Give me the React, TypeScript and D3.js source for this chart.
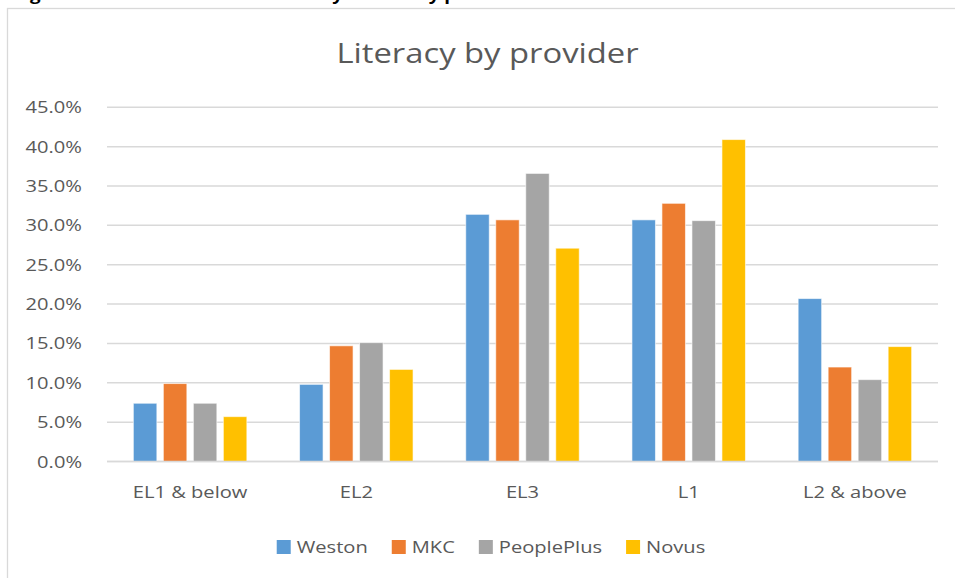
import React from "react";
import * as d3 from "d3";

const categories = ["EL1 & below", "EL2", "EL3", "L1", "L2 & above"];
const seriesNames = ["Weston", "MKC", "PeoplePlus", "Novus"];
const weston = [0.074, 0.098, 0.314, 0.307, 0.207];
const mkc = [0.099, 0.147, 0.307, 0.328, 0.12];
const peoplePlus = [0.074, 0.151, 0.366, 0.306, 0.104];
const novus = [0.057, 0.117, 0.271, 0.409, 0.146];
const seriesValues = [weston, mkc, peoplePlus, novus];
const colors = ["#5B9BD5", "#ED7D31", "#A5A5A5", "#FFC000"];
const yTicks = [0, 0.05, 0.1, 0.15, 0.2, 0.25, 0.3, 0.35, 0.4, 0.45];
const title = "Literacy by provider";
const header = "Figure 3: Initial assessment literacy results by provider";

const W = 955;
const H = 578;
const FONT = "'Open Sans', sans-serif";
const SX = 1.17;
const TEXT = "#595959";

let ctx: CanvasRenderingContext2D | null = null;
function measure(s: string, size: number, weight = "normal") {
  if (!ctx) ctx = document.createElement("canvas").getContext("2d");
  if (!ctx) return s.length * size * 0.55;
  ctx.font = `${weight} ${size}px 'Open Sans', sans-serif`;
  return ctx.measureText(s).width * SX;
}

function T(props: any) {
  const { x, y, size, anchor = "start", weight = "normal", fill = TEXT, children } = props;
  return (
    <text
      transform={`translate(${x},${y}) scale(${SX},1)`}
      textAnchor={anchor}
      fontSize={size}
      fontWeight={weight}
      fontFamily={FONT}
      fill={fill}
    >
      {children}
    </text>
  );
}

export default function App() {
  const left = 107;
  const right = 938;
  const x0 = d3.scaleBand<string>().domain(categories).range([left, right]).paddingInner(0).paddingOuter(0);
  const groupW = 113.5;
  const x1 = d3.scaleBand<string>().domain(seriesNames).range([0, groupW]).paddingInner(0.2167).paddingOuter(0);
  const y = d3.scaleLinear().domain([0, 0.45]).range([461.5, 107.3]);
  const fmt = d3.format(".1%");
  const axisSize = 17.2;

  const sq = 14;
  const gapText = 6;
  const gapItem = 24;
  const legendSize = 17.2;
  const widths = seriesNames.map((s) => measure(s, legendSize));
  const total = widths.reduce((a, w) => a + sq + gapText + w, 0) + gapItem * (seriesNames.length - 1);
  let lx = 491 - total / 2;
  const legendItems = seriesNames.map((s, i) => {
    const item = { name: s, x: lx, color: colors[i] };
    lx += sq + gapText + widths[i] + gapItem;
    return item;
  });

  return (
    <svg
      width={W}
      height={H}
      style={{ position: "absolute", left: 0, top: 0, background: "#fff" }}
    >
      <rect x={0} y={0} width={W} height={H} fill="#fff" />
      <text
        transform={`translate(14,-0.5) scale(${SX},1)`}
        fontSize={16}
        fontWeight="bold"
        fontFamily={FONT}
        fill="#000"
      >
        {header}
      </text>
      <rect x={7.5} y={8.5} width={1000} height={700} fill="#fff" stroke="#D9D9D9" strokeWidth={1.3} />
      <T x={487.5} y={63} size={28} anchor="middle">
        {title}
      </T>
      {yTicks.map((t) => (
        <g key={t}>
          <line x1={left} x2={right} y1={y(t)} y2={y(t)} stroke="#D9D9D9" strokeWidth={1.5} />
          <T x={82} y={y(t) + 6} size={axisSize} anchor="end">
            {fmt(t)}
          </T>
        </g>
      ))}
      {categories.map((c, ci) => (
        <g key={c} transform={`translate(${x0(c)! + (x0.bandwidth() - groupW) / 2},0)`}>
          {seriesNames.map((s, si) => (
            <rect
              key={s}
              x={x1(s)}
              y={y(seriesValues[si][ci])}
              width={x1.bandwidth()}
              height={y(0) - y(seriesValues[si][ci])}
              fill={colors[si]}
              stroke="#fff"
              strokeOpacity={0.6}
              strokeWidth={1}
            />
          ))}
        </g>
      ))}
      <line x1={left} x2={right} y1={y(0)} y2={y(0)} stroke="#D9D9D9" strokeWidth={1.5} />
      {categories.map((c) => (
        <T key={c} x={x0(c)! + x0.bandwidth() / 2} y={498} size={axisSize} anchor="middle">
          {c}
        </T>
      ))}
      {legendItems.map((it) => (
        <g key={it.name}>
          <rect x={it.x} y={540} width={sq} height={sq} fill={it.color} />
          <T x={it.x + sq + gapText} y={553} size={legendSize}>
            {it.name}
          </T>
        </g>
      ))}
    </svg>
  );
}
